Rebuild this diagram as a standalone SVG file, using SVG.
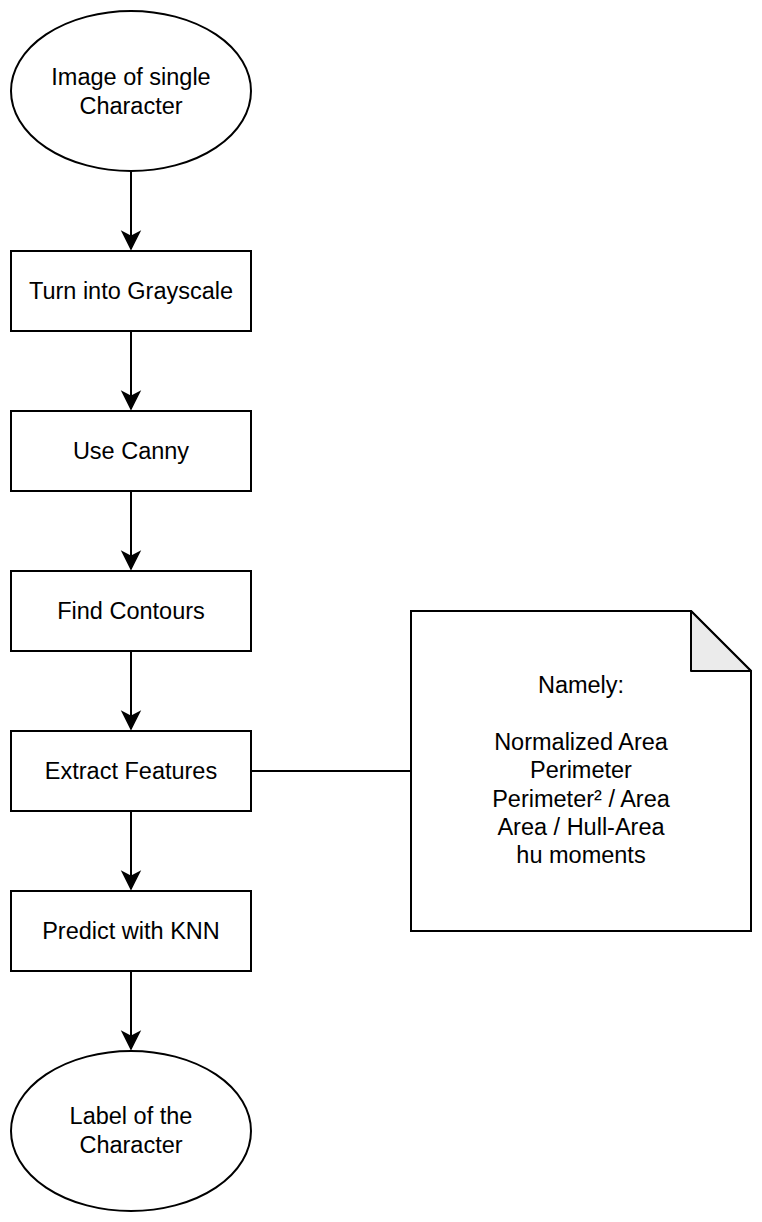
<svg xmlns="http://www.w3.org/2000/svg" width="762" height="1222" viewBox="0 0 762 1222">
<defs>
<style>
.n{fill:#ffffff;stroke:#000000;stroke-width:2}
.t{font-family:"Liberation Sans",Arial,Helvetica,sans-serif;font-size:23.5px;fill:#000000;text-anchor:middle}
.e{fill:none;stroke:#000000;stroke-width:2}
</style>
<marker id="arr" markerUnits="userSpaceOnUse" markerWidth="22" markerHeight="22" viewBox="-20 -11 22 22" refX="0" refY="0" orient="auto">
<path d="M0,0 L-17,-8.5 L-12.5,0 L-17,8.5 Z" fill="#000000" stroke="#000000" stroke-width="1.5"/>
</marker>
</defs>
<rect width="762" height="1222" fill="#ffffff"/>
<g id="connectors">
<path class="e" d="M131,171 L131,249" marker-end="url(#arr)"/>
<path class="e" d="M131,331 L131,409" marker-end="url(#arr)"/>
<path class="e" d="M131,491 L131,569" marker-end="url(#arr)"/>
<path class="e" d="M131,651 L131,729" marker-end="url(#arr)"/>
<path class="e" d="M131,811 L131,889" marker-end="url(#arr)"/>
<path class="e" d="M131,971 L131,1049" marker-end="url(#arr)"/>
<path class="e" d="M251,771 L411,771"/>
</g>
<g id="start">
<ellipse class="n" cx="131" cy="91" rx="120" ry="80"/>
<text class="t" x="131" y="85">Image of single</text>
<text class="t" x="131" y="114">Character</text>
</g>
<g id="grayscale">
<rect class="n" x="11" y="251" width="240" height="80"/>
<text class="t" x="131" y="299">Turn into Grayscale</text>
</g>
<g id="canny">
<rect class="n" x="11" y="411" width="240" height="80"/>
<text class="t" x="131" y="459">Use Canny</text>
</g>
<g id="contours">
<rect class="n" x="11" y="571" width="240" height="80"/>
<text class="t" x="131" y="619">Find Contours</text>
</g>
<g id="features">
<rect class="n" x="11" y="731" width="240" height="80"/>
<text class="t" x="131" y="779">Extract Features</text>
</g>
<g id="knn">
<rect class="n" x="11" y="891" width="240" height="80"/>
<text class="t" x="131" y="939">Predict with KNN</text>
</g>
<g id="end">
<ellipse class="n" cx="131" cy="1131" rx="120" ry="80"/>
<text class="t" x="131" y="1124">Label of the</text>
<text class="t" x="131" y="1153">Character</text>
</g>
<g id="note">
<path class="n" d="M411,611 L691,611 L751,671 L751,931 L411,931 Z"/>
<path d="M691,611 L691,671 L751,671 Z" fill="#ebebeb" stroke="#000000" stroke-width="2" stroke-linejoin="round"/>
<text class="t" x="581" y="693">Namely:</text>
<text class="t" x="581" y="750">Normalized Area</text>
<text class="t" x="581" y="778">Perimeter</text>
<text class="t" x="581" y="807">Perimeter² / Area</text>
<text class="t" x="581" y="835">Area / Hull-Area</text>
<text class="t" x="581" y="863">hu moments</text>
</g>
</svg>
